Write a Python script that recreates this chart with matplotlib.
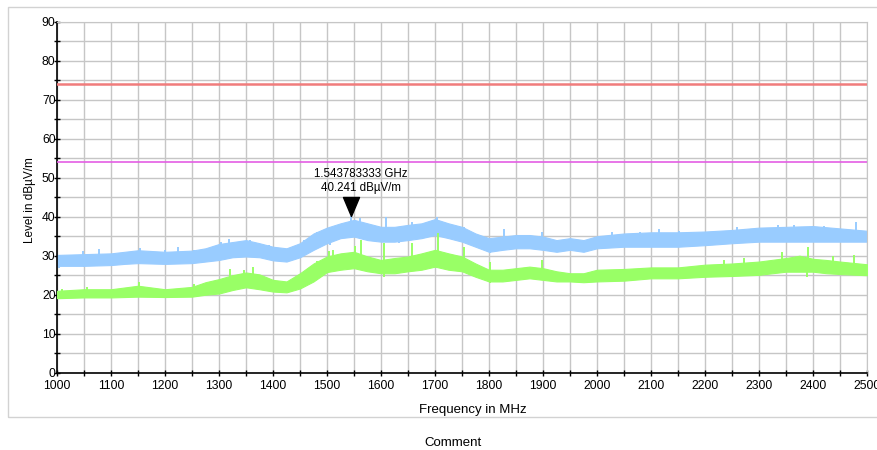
import numpy as np
import matplotlib
matplotlib.use("Agg")
import matplotlib.pyplot as plt
from matplotlib.path import Path
from matplotlib.patches import Rectangle
from matplotlib.ticker import MultipleLocator

plt.rcParams["font.family"] = ["Liberation Sans", "DejaVu Sans"]

# Peak trace (blue): envelope of the noisy sweep, MHz -> dBµV/m
peak_freq = [1000, 1050, 1100, 1125, 1150, 1200, 1250, 1275, 1300, 1325, 1350,
             1375, 1400, 1425, 1450, 1475, 1500, 1525, 1550, 1575, 1600, 1625,
             1650, 1675, 1700, 1725, 1750, 1775, 1800, 1825, 1850, 1875, 1900,
             1925, 1950, 1975, 2000, 2050, 2100, 2150, 2200, 2250, 2300, 2350,
             2400, 2450, 2500]
peak_low = [27.4, 27.4, 27.6, 27.9, 28.1, 27.9, 28.1, 28.5, 28.9, 29.6, 29.8,
            29.6, 28.8, 28.5, 29.6, 31.5, 33.2, 34.5, 34.9, 34.0, 33.6, 33.6,
            34.0, 34.5, 35.3, 34.5, 33.6, 32.3, 31.0, 31.5, 31.9, 31.9, 31.5,
            31.0, 31.5, 31.0, 31.9, 32.3, 32.3, 32.3, 32.7, 33.2, 33.6, 33.6,
            33.6, 33.6, 33.6]
peak_high = [30.2, 30.4, 30.6, 31.0, 31.4, 31.0, 31.3, 31.9, 33.0, 33.5, 34.0,
             33.2, 32.3, 31.9, 33.2, 35.7, 37.2, 38.3, 39.2, 38.3, 37.4, 37.4,
             37.9, 38.3, 39.4, 38.3, 37.4, 35.7, 34.5, 34.9, 35.3, 35.3, 34.9,
             34.0, 34.5, 34.0, 35.0, 35.7, 36.0, 36.0, 36.2, 36.6, 37.2, 37.4,
             37.6, 37.0, 36.4]
# isolated excursions above / below the peak envelope
peak_up_freq = [1049, 1077, 1153, 1200, 1224, 1253, 1304, 1319, 1358, 1392,
                1457, 1481, 1543.783333, 1562, 1610, 1657, 1704, 1753, 1827,
                1898, 2028, 2080, 2114, 2151, 2259, 2336, 2364, 2420, 2480]
peak_up_level = [31.1, 31.7, 31.9, 31.5, 32.3, 31.5, 33.6, 34.2, 34.0, 32.7,
                 34.0, 36.2, 40.241, 39.6, 40.0, 38.7, 40.0, 37.4, 36.8,
                 36.2, 36.0, 36.2, 36.8, 36.4, 37.4, 37.9, 37.9, 37.6, 38.7]
peak_down_freq = [1003, 1050, 1506, 1633, 1802]
peak_down_level = [26.8, 27.0, 32.8, 33.2, 30.8]

# Average trace (green): envelope of the noisy sweep, MHz -> dBµV/m
avg_freq = [1000, 1050, 1100, 1150, 1200, 1250, 1275, 1300, 1325, 1350, 1375,
            1400, 1425, 1450, 1475, 1500, 1525, 1550, 1575, 1600, 1625, 1650,
            1675, 1700, 1725, 1750, 1775, 1800, 1825, 1850, 1875, 1900, 1925,
            1950, 1975, 2000, 2050, 2100, 2150, 2200, 2250, 2300, 2350, 2375,
            2400, 2425, 2450, 2500]
avg_low = [19.1, 19.3, 19.3, 19.5, 19.4, 19.5, 20.0, 20.3, 21.2, 21.9, 21.4,
           20.8, 20.6, 21.6, 23.4, 25.8, 26.4, 26.8, 26.0, 25.5, 25.5, 26.0,
           26.4, 27.2, 26.4, 26.0, 24.6, 23.4, 23.4, 23.8, 24.2, 23.8, 23.4,
           23.4, 23.2, 23.4, 23.6, 24.2, 24.2, 24.6, 24.8, 25.1, 25.9, 25.9,
           25.9, 25.5, 25.3, 25.0]
avg_high = [21.0, 21.4, 21.4, 22.3, 21.4, 22.0, 23.2, 24.0, 25.0, 25.7, 25.2,
            23.8, 23.4, 25.5, 28.0, 29.8, 30.6, 31.0, 29.8, 28.9, 29.4, 29.8,
            30.6, 31.5, 30.6, 29.8, 28.0, 26.4, 26.4, 26.8, 27.2, 26.8, 26.0,
            25.5, 25.5, 26.4, 26.6, 27.0, 27.0, 27.7, 28.0, 28.5, 29.4, 30.0,
            29.2, 28.9, 28.5, 27.8]
avg_up_freq = [1009, 1056, 1151, 1253, 1321, 1346, 1363, 1420, 1457, 1481,
               1503, 1512, 1552, 1563, 1605, 1657, 1705, 1753, 1801, 1898,
               2235, 2272, 2343, 2391, 2437, 2475]
avg_up_level = [21.4, 22.1, 23.2, 22.7, 26.6, 26.4, 27.2, 22.9, 25.9, 28.6,
                31.1, 31.5, 32.5, 34.0, 33.2, 33.2, 35.7, 32.3, 28.5, 28.9,
                28.9, 29.4, 31.0, 32.3, 29.8, 30.2]
avg_down_freq = [1491, 1605, 1802, 2389]
avg_down_level = [25.1, 24.6, 22.9, 24.5]

# Limit lines, dBµV/m
peak_limit = 74
avg_limit = 54

# Marker
marker_freq_mhz = 1543.783333
marker_level = 40.241

x_ticks = [1000, 1100, 1200, 1300, 1400, 1500, 1600, 1700, 1800, 1900,
           2000, 2100, 2200, 2300, 2400, 2500]
y_ticks = [0, 10, 20, 30, 40, 50, 60, 70, 80, 90]

BLUE = "#99ccff"
GREEN = "#99ff66"
GRID = "#c6c6c6"

fig = plt.figure(figsize=(8.77, 4.5), dpi=100)
W, H = 877, 450
ax = fig.add_axes([57 / W, (H - 372.7) / H, 810 / W, 351 / H])

# outer frame
fig.patches.append(Rectangle((8 / W, (H - 417) / H), 1.0, (417 - 6.5) / H,
                             transform=fig.transFigure, fill=False,
                             edgecolor="#d2d2d2", lw=1.0, zorder=0))

ax.set_xlim(x_ticks[0], x_ticks[-1])
ax.set_ylim(y_ticks[0], y_ticks[-1])
ax.set_xticks(x_ticks)
ax.set_yticks(y_ticks)
ax.xaxis.set_minor_locator(MultipleLocator(50))
ax.yaxis.set_minor_locator(MultipleLocator(5))
ax.grid(True, which="both", color=GRID, lw=1.0, zorder=0)
ax.set_axisbelow(True)

for side in ("top", "right"):
    ax.spines[side].set_color(GRID)
for side in ("left", "bottom"):
    ax.spines[side].set_color("black")
    ax.spines[side].set_linewidth(1.2)

ax.tick_params(which="both", direction="inout", length=4, width=1, color="black",
               labelsize=8.7)
ax.tick_params(axis="y", pad=-1)
ax.tick_params(axis="x", pad=3)


def draw_trace(freq, low, high, up_f, up_v, down_f, down_v, color, z):
    ax.fill_between(freq, low, high, color=color, lw=0.8, edgecolor=color,
                    zorder=z)
    mid = (np.asarray(low) + np.asarray(high)) / 2
    ax.vlines(up_f, np.interp(up_f, freq, mid), up_v, color=color, lw=1.4,
              zorder=z)
    ax.vlines(down_f, down_v, np.interp(down_f, freq, mid), color=color,
              lw=1.4, zorder=z)


draw_trace(peak_freq, peak_low, peak_high, peak_up_freq, peak_up_level,
           peak_down_freq, peak_down_level, BLUE, 2)
draw_trace(avg_freq, avg_low, avg_high, avg_up_freq, avg_up_level,
           avg_down_freq, avg_down_level, GREEN, 3)

# limits
ax.axhline(peak_limit, color="#f07c7c", lw=1.8, zorder=4)
ax.axhline(avg_limit, color="#e45ee4", lw=1.2, zorder=4)

# marker: downward triangle with its tip on the measured point
tri = Path([(-8, 19), (8, 19), (0, 0), (-8, 19)],
           [Path.MOVETO, Path.LINETO, Path.LINETO, Path.CLOSEPOLY])
ax.plot([marker_freq_mhz], [marker_level], marker=tri, ms=27.4, color="black",
        ls="none", zorder=6, clip_on=False)
ax.annotate(f"{marker_freq_mhz / 1000:.9f} GHz\n{marker_level:.3f} dBµV/m",
            xy=(marker_freq_mhz, marker_level), xytext=(7.5, 25),
            textcoords="offset points", ha="center", va="center",
            multialignment="center", fontsize=8.3, zorder=7)

fig.text(30 / W, (H - 200) / H, "Level in dBµV/m", rotation=90,
         ha="center", va="center", fontsize=8.5)
fig.text(473 / W, (H - 410) / H, "Frequency in MHz", ha="center", va="center",
         fontsize=9.5)
fig.text(453 / W, (H - 443) / H, "Comment", ha="center", va="center",
         fontsize=9.5)

fig.savefig("out.png", dpi=100)
